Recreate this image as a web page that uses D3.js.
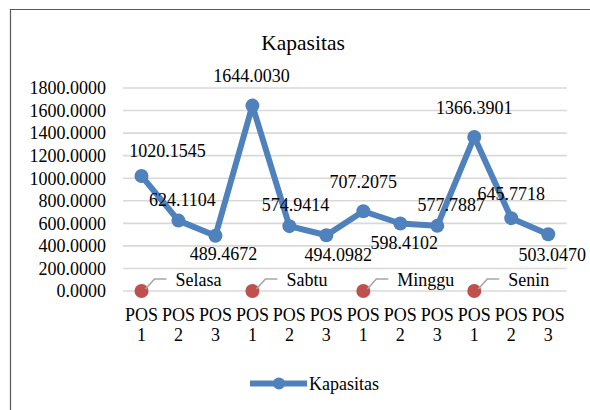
<!DOCTYPE html>
<html>
<head>
<meta charset="utf-8">
<script src="https://cdn.jsdelivr.net/npm/d3@7"></script>
<style>
body { margin: 0; background: #fff; }
svg text { font-family: 'Liberation Serif', 'DejaVu Serif', serif; fill: #000; }
</style>
</head>
<body>
<script>
const width = 590
const height = 410

// data
const categories = ["POS 1", "POS 2", "POS 3", "POS 1", "POS 2", "POS 3", "POS 1", "POS 2", "POS 3", "POS 1", "POS 2", "POS 3"]
const kapasitas = [1020.1545, 624.1104, 489.4672, 1644.0030, 574.9414, 494.0982, 707.2075, 598.4102, 577.7887, 1366.3901, 645.7718, 503.0470]
const days = ["Selasa", "Sabtu", "Minggu", "Senin"]
const dayIndex = [0, 3, 6, 9]
const dayValue = [0, 0, 0, 0]
const yTicks = [0, 200, 400, 600, 800, 1000, 1200, 1400, 1600, 1800]

// label nudges (dx, dy from the point), as placed in the original chart
const labelOffsets = [[26, -19], [4, -15], [8, 24], [-1, -24], [6, -15], [12, 26], [0, -23], [4, 25], [14, -15], [0, -23], [0, -18], [4, 27]]

const blue = "#4f81bd"
const red = "#c0504d"

const svg = d3.select("body").append("svg")
    .attr("width", width)
    .attr("height", height)
    .attr("font-family", "'Liberation Serif', 'DejaVu Serif', serif")

// outer frame (runs off the right and bottom edges)
svg.append("path")
    .attr("d", `M10.5,${height + 2} L10.5,9.5 L${width + 2},9.5`)
    .attr("fill", "none")
    .attr("stroke", "#595959")
    .attr("stroke-width", 1.2)

svg.append("text")
    .attr("x", 303)
    .attr("y", 50)
    .attr("text-anchor", "middle")
    .style("font-size", "21.5px")
    .text("Kapasitas")

const x = d3.scaleBand()
    .domain(d3.range(categories.length))
    .range([123, 566.7])
const y = d3.scaleLinear()
    .domain([0, 1800])
    .range([291, 88])
const cx = i => x(i) + x.bandwidth() / 2

// grid
svg.append("g").selectAll("line")
    .data(yTicks)
    .enter()
    .append("line")
    .attr("x1", 123)
    .attr("x2", 566.7)
    .attr("y1", d => y(d))
    .attr("y2", d => y(d))
    .attr("stroke", "#d9d9d9")
    .attr("stroke-width", 1.6)

// y axis labels
svg.append("g").selectAll("text")
    .data(yTicks)
    .enter()
    .append("text")
    .attr("x", 106)
    .attr("y", d => y(d))
    .attr("dy", "0.35em")
    .attr("text-anchor", "end")
    .style("font-size", "18px")
    .text(d => d.toFixed(4))

// category labels, two lines each
const cat = svg.append("g").selectAll("text")
    .data(categories)
    .enter()
    .append("text")
    .attr("text-anchor", "middle")
    .style("font-size", "18px")
cat.append("tspan")
    .attr("x", (d, i) => cx(i))
    .attr("y", 321)
    .text(d => d.split(" ")[0])
cat.append("tspan")
    .attr("x", (d, i) => cx(i))
    .attr("y", 341)
    .text(d => d.split(" ")[1])

// day markers with leader lines
const dayG = svg.append("g").selectAll("g")
    .data(days.map((d, k) => ({name: d, i: dayIndex[k], v: dayValue[k]})))
    .enter()
    .append("g")
    .attr("transform", d => `translate(${cx(d.i)},${y(d.v)})`)
dayG.append("circle")
    .attr("r", 7)
    .attr("fill", red)
dayG.append("path")
    .attr("d", "M4,-2 L13,-12 L25,-12")
    .attr("fill", "none")
    .attr("stroke", "#a6a6a6")
    .attr("stroke-width", 1.6)
dayG.append("text")
    .attr("x", 34)
    .attr("y", -5)
    .style("font-size", "18px")
    .text(d => d.name)

// line series
svg.append("path")
    .datum(kapasitas)
    .attr("fill", "none")
    .attr("stroke", blue)
    .attr("stroke-width", 6)
    .attr("stroke-linejoin", "round")
    .attr("d", d3.line().x((d, i) => cx(i)).y(d => y(d)))
svg.append("g").selectAll("circle")
    .data(kapasitas)
    .enter()
    .append("circle")
    .attr("cx", (d, i) => cx(i))
    .attr("cy", d => y(d))
    .attr("r", 7)
    .attr("fill", blue)

// data labels
svg.append("g").selectAll("text")
    .data(kapasitas)
    .enter()
    .append("text")
    .attr("x", (d, i) => cx(i) + labelOffsets[i][0])
    .attr("y", (d, i) => y(d) + labelOffsets[i][1])
    .attr("text-anchor", "middle")
    .style("font-size", "18px")
    .text(d => d.toFixed(4))

// legend
const legend = svg.append("g").attr("transform", "translate(250,383.5)")
legend.append("line")
    .attr("x1", 0)
    .attr("x2", 57)
    .attr("stroke", blue)
    .attr("stroke-width", 6)
legend.append("circle")
    .attr("cx", 29)
    .attr("r", 6)
    .attr("fill", blue)
legend.append("text")
    .attr("x", 59)
    .attr("y", 6)
    .style("font-size", "18px")
    .text("Kapasitas")
</script>
</body>
</html>
